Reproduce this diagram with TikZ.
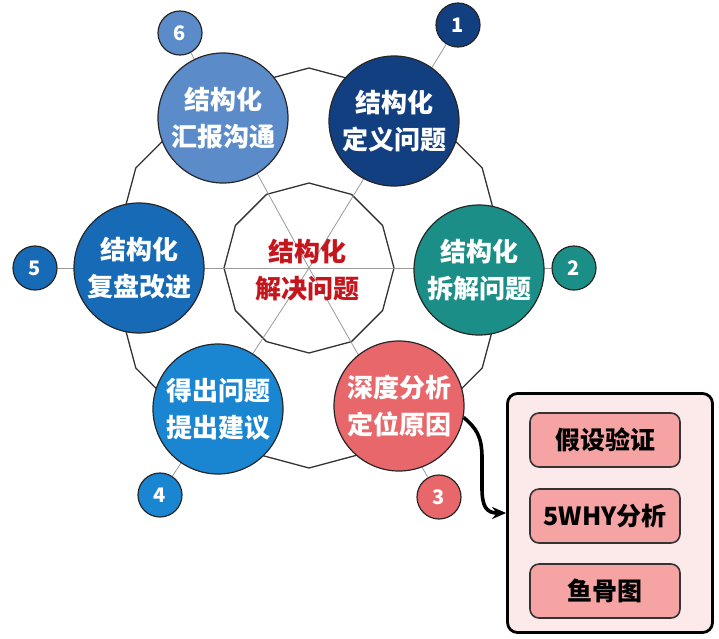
\documentclass[tikz,border=0pt]{standalone}
\usepackage{fontspec}
\newfontfamily\cjk{Noto Sans CJK SC}
\usetikzlibrary{arrows.meta,shapes.geometric}

\definecolor{navy}{HTML}{123F7F}
\definecolor{teal}{HTML}{1A8E87}
\definecolor{coral}{HTML}{E8676A}
\definecolor{sky}{HTML}{1A86D1}
\definecolor{royal}{HTML}{176AB5}
\definecolor{steel}{HTML}{5B8BC9}
\definecolor{crimson}{HTML}{C4161C}
\definecolor{blush}{HTML}{FCE9EA}
\definecolor{salmon}{HTML}{F5A3A3}

\begin{document}
\begin{tikzpicture}[x=1pt,y=-1pt,
    ring/.style={regular polygon,regular polygon sides=12,shape border rotate=15,
      draw=black!80,line width=1.3pt,inner sep=0pt},
    spoke/.style={draw=black!40,line width=0.8pt},
    big/.style={circle,draw=black!85,line width=1.2pt,minimum size=130pt,inner sep=0pt,
      text=white,align=center,font=\cjk\bfseries\fontsize{26}{37}\selectfont},
    badge/.style={circle,draw=black!85,line width=1.2pt,minimum size=44pt,inner sep=0pt,
      text=white,font=\cjk\bfseries\fontsize{20}{22}\selectfont},
    item/.style={rectangle,rounded corners=9pt,draw=black!80,line width=1.6pt,fill=salmon,
      minimum width=150pt,minimum height=54pt,font=\cjk\bfseries\fontsize{25}{28}\selectfont}]

      \useasboundingbox (0,0) rectangle (719,638);

      \coordinate (o) at (309,268);
      \node[ring,minimum size=400pt] (outer) at (o) {};
      \node[ring,minimum size=170pt] (inner) at (o) {};

      % number badges
      \begin{scope}[every node/.style={badge}]
        \node[fill=navy]  (b1) at (458,25)  {1};
        \node[fill=teal]  (b2) at (574,268) {2};
        \node[fill=coral] (b3) at (439,497) {3};
        \node[fill=sky]   (b4) at (160,495) {4};
        \node[fill=royal] (b5) at (35,268)  {5};
        \node[fill=steel] (b6) at (180,33)  {6};
      \end{scope}

      \foreach \b in {b1,b2,b3,b4,b5,b6}
        \path[spoke] (o) -- (\b);

      \begin{scope}[every node/.style={big}]
        \node[fill=navy]  (c1) at (394,121) {结构化\\定义问题};
        \node[fill=teal]  (c2) at (479,270) {结构化\\拆解问题};
        \node[fill=coral] (c3) at (399,406) {深度分析\\定位原因};
        \node[fill=sky]   (c4) at (218,409) {得出问题\\提出建议};
        \node[fill=royal] (c5) at (139,268) {结构化\\复盘改进};
        \node[fill=steel] (c6) at (223,118) {结构化\\汇报沟通};
      \end{scope}

      \node[align=center,text=crimson,font=\cjk\bfseries\fontsize{26}{37}\selectfont]
        (mid) at (307,270) {结构化\\解决问题};

      \node[rectangle,rounded corners=10pt,draw=black,line width=2.8pt,fill=blush,
        minimum width=205pt,minimum height=239pt] (panel) at (610,513) {};

      \node[item] (s1) at (605,440) {假设验证};
      \node[item] (s2) at (605,516) {5WHY分析};
      \node[item] (s3) at (605,591) {鱼骨图};

      \draw[line width=3.6pt,-{Stealth[length=14pt,width=12pt]}]
        (c3.-10) .. controls (476,428) and (482,436) .. (482,458)
        -- (482,488) .. controls (482,506) and (486,513) .. (panel.west);

    \end{tikzpicture}
\end{document}
